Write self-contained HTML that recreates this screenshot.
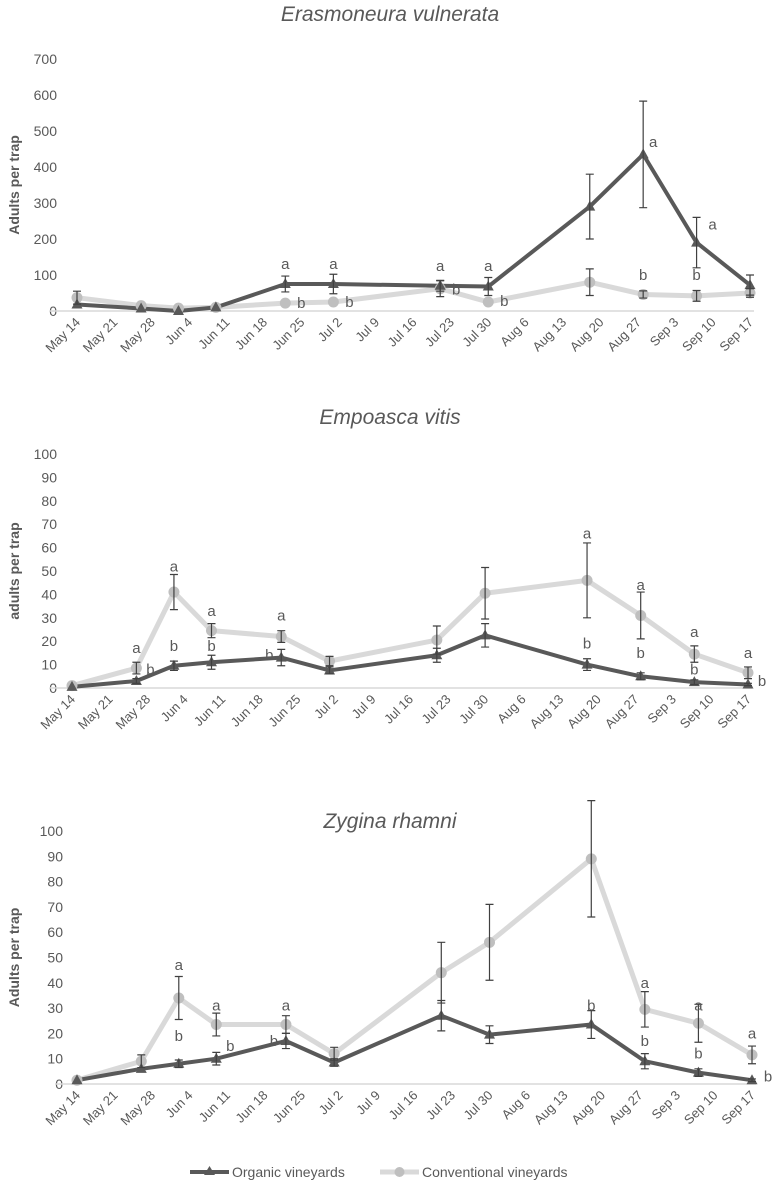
<!DOCTYPE html>
<html><head><meta charset="utf-8">
<style>
html,body{margin:0;padding:0;background:#fff;}
svg{display:block;font-family:"Liberation Sans",sans-serif;}
</style></head>
<body>
<svg id="fig" width="778" height="1185" viewBox="0 0 778 1185" xmlns="http://www.w3.org/2000/svg">
  <g id="legend">
    <g>
      <line x1="190" y1="1172" x2="229" y2="1172" stroke="#595959" stroke-width="4"/>
      <polygon points="209.5,1166 215,1175 204,1175" fill="#595959"/>
      <text x="232" y="1177" font-size="14" fill="#595959">Organic vineyards</text>
    </g>
    <g>
      <line x1="380" y1="1172" x2="419" y2="1172" stroke="#d9d9d9" stroke-width="5"/>
      <circle cx="399.5" cy="1172" r="5" fill="#bfbfbf"/>
      <text x="422" y="1177" font-size="14" fill="#595959">Conventional vineyards</text>
    </g>
  </g>
</svg>
<script>
// shared data
const tickLabels = ["May 14","May 21","May 28","Jun 4","Jun 11","Jun 18","Jun 25","Jul 2","Jul 9","Jul 16","Jul 23","Jul 30","Aug 6","Aug 13","Aug 20","Aug 27","Sep 3","Sep 10","Sep 17"];
const sampleDays = [0,12,19,26,39,48,68,77,96,106,116,126];

// chart 1: Erasmoneura vulnerata
const c1Organic = [18,7,0,10,75,75,70,68,290,435,190,72];
const c1OrganicErr = [0,0,0,0,22,27,15,25,90,148,70,28];
const c1Conv = [37,15,8,10,22,25,62,25,80,46,42,50];
const c1ConvErr = [18,0,0,0,0,0,22,0,37,10,15,12];
const c1YTicks = [0,100,200,300,400,500,600,700];
const c1Letters = [[4,130,"a",0],[4,22,"b",16],[5,130,"a",0],[5,25,"b",16],[6,125,"a",0],[6,60,"b",16],[7,125,"a",0],[7,28,"b",16],[9,470,"a",10],[9,100,"b",0],[10,240,"a",16],[10,100,"b",0]];

// chart 2: Empoasca vitis
const c2Organic = [0.5,3,9.5,11,13,7.5,14,22.5,10,5,2.5,1.5];
const c2OrganicErr = [0,1,2,3,3.5,1.5,3,5,2.5,1.5,1,0.5];
const c2Conv = [1,8.5,41,24.5,22,11.5,20.5,40.5,46,31,14.5,6.5];
const c2ConvErr = [0,2.5,7.5,3,2.5,2,6,11,16,10,3.5,2.5];
const c2YTicks = [0,10,20,30,40,50,60,70,80,90,100];
const c2Letters = [[1,17,"a",0],[1,8,"b",14],[2,52,"a",0],[2,18,"b",0],[3,33,"a",0],[3,18,"b",0],[4,31,"a",0],[4,14,"b",-12],[8,66,"a",0],[8,19,"b",0],[9,44,"a",0],[9,15,"b",0],[10,24,"a",0],[10,8,"b",0],[11,15,"a",0],[11,3,"b",14]];

// chart 3: Zygina rhamni
const c3Organic = [1.5,6,8,10,17,8.5,27,19.5,23.5,9,4.5,1.5];
const c3OrganicErr = [0,0,1.5,2.5,3,1.5,6,3.5,5.5,3,1.5,0.5];
const c3Conv = [1.5,9,34,23.5,23.5,12,44,56,89,29.5,24,11.5];
const c3ConvErr = [0,2.5,8.5,4.5,3.5,2.5,12,15,23,7,7.5,3.5];
const c3YTicks = [0,10,20,30,40,50,60,70,80,90,100];
const c3Letters = [[2,47,"a",0],[2,19,"b",0],[3,31,"a",0],[3,15,"b",14],[4,31,"a",0],[4,17,"b",-12],[8,31,"b",0],[9,40,"a",0],[9,17,"b",0],[10,31,"a",0],[10,12,"b",0],[11,20,"a",0],[11,3,"b",16]];

const NS = "http://www.w3.org/2000/svg";
const svg = document.getElementById("fig");
function mk(tag, attrs, parent){const e=document.createElementNS(NS,tag);for(const k in attrs)e.setAttribute(k,attrs[k]);(parent||svg).appendChild(e);return e;}

function drawChart(cfg){
  const g = mk("g",{});
  
  
  const xs = d => cfg.x0 + d*(cfg.x1-cfg.x0)/126;
  const ys = v => cfg.y0 - v*(cfg.y0-cfg.yTop)/cfg.yMax;
  const t = mk("text",{x:cfg.titleX,y:cfg.titleY,"font-size":21,"font-style":"italic",fill:"#595959","text-anchor":"middle"},g);
  t.textContent = cfg.title;
  
  
  const yt = mk("text",{x:0,y:0,"font-size":14,"font-weight":"bold",fill:"#595959","text-anchor":"middle",transform:`translate(${cfg.yTitleX},${(cfg.y0+cfg.yTop)/2}) rotate(-90)`},g);
  yt.textContent = cfg.yTitle;
  
  
  cfg.yTicks.forEach(v=>{
    const l = mk("text",{x:cfg.yLabelX,y:ys(v)+5,"font-size":14,fill:"#595959","text-anchor":"end"},g);
    l.textContent = v;
    
    
  });
  const ax = mk("line",{x1:cfg.axisX,y1:cfg.y0,x2:cfg.x1+4,y2:cfg.y0,stroke:"#d9d9d9","stroke-width":1.5},g);
  
  
  tickLabels.forEach((s,i)=>{
    const x = xs(i*7);
    const l = mk("text",{x:0,y:0,"font-size":13,fill:"#595959","text-anchor":"end",transform:`translate(${x+4},${cfg.y0+12}) rotate(-45)`},g);
    l.textContent = s;
    
    
  });
  function series(vals, color, width, name){
    const p = mk("polyline",{points:vals.map((v,i)=>xs(sampleDays[i])+","+ys(v)).join(" "),fill:"none",stroke:color,"stroke-width":width,"stroke-linejoin":"round"},g);
    
    
  }
  function errs(vals, err, name){
    vals.forEach((v,i)=>{
      if(!err[i]) return;
      const x = xs(sampleDays[i]);
      const e = mk("path",{d:`M${x},${ys(v-err[i])}V${ys(v+err[i])}M${x-4},${ys(v-err[i])}h8M${x-4},${ys(v+err[i])}h8`,stroke:"#404040","stroke-width":1.2,fill:"none"},g);
      
      
    });
  }
  series(cfg.conv,"#d9d9d9",5,"conventional");
  series(cfg.org,"#595959",4,"organic");
  cfg.conv.forEach((v,i)=>{
    const c = mk("circle",{cx:xs(sampleDays[i]),cy:ys(v),r:5.5,fill:"#bfbfbf"},g);
    
    
  });
  cfg.org.forEach((v,i)=>{
    const x=xs(sampleDays[i]), y=ys(v);
    const c = mk("polygon",{points:`${x},${y-6} ${x+5.5},${y+4} ${x-5.5},${y+4}`,fill:"#595959"},g);
    
    
  });
  errs(cfg.conv,cfg.convErr,"conventional");
  errs(cfg.org,cfg.orgErr,"organic");
  cfg.letters.forEach(a=>{
    const l = mk("text",{x:xs(sampleDays[a[0]])+a[3],y:ys(a[1])+5,"font-size":15,fill:"#595959","text-anchor":"middle"},g);
    l.textContent = a[2];
    
    
  });
}

drawChart({name:"chart-erasmoneura",title:"Erasmoneura vulnerata",titleX:390,titleY:21,yTitle:"Adults per trap",yTitleX:19,
  x0:77,x1:750,axisX:50,y0:311,yTop:59,yMax:700,yLabelX:57,yTicks:c1YTicks,
  org:c1Organic,orgErr:c1OrganicErr,conv:c1Conv,convErr:c1ConvErr,letters:c1Letters});
drawChart({name:"chart-empoasca",title:"Empoasca vitis",titleX:390,titleY:424,yTitle:"adults per trap",yTitleX:19,
  x0:72,x1:748,axisX:50,y0:688,yTop:454,yMax:100,yLabelX:57,yTicks:c2YTicks,
  org:c2Organic,orgErr:c2OrganicErr,conv:c2Conv,convErr:c2ConvErr,letters:c2Letters});
drawChart({name:"chart-zygina",title:"Zygina rhamni",titleX:390,titleY:828,yTitle:"Adults per trap",yTitleX:19,
  x0:77,x1:752,axisX:55,y0:1084,yTop:831,yMax:100,yLabelX:63,yTicks:c3YTicks,
  org:c3Organic,orgErr:c3OrganicErr,conv:c3Conv,convErr:c3ConvErr,letters:c3Letters});
</script>
</body></html>
